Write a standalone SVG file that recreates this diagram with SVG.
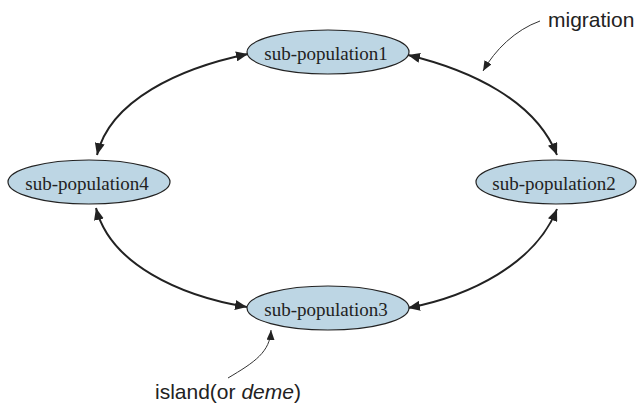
<svg xmlns="http://www.w3.org/2000/svg" width="639" height="406" viewBox="0 0 639 406">
<style>
.node ellipse{fill:#bdd6e4;stroke:#222;stroke-width:1.2}
.node text{font-family:"Liberation Serif","Times New Roman",serif;font-size:19px;fill:#222;text-anchor:middle}
.conn{fill:none;stroke:#222;stroke-width:2}
.thin{fill:none;stroke:#333;stroke-width:1}
.lbl{font-family:"Liberation Sans",Arial,sans-serif;font-size:21px;fill:#222}
</style>
<defs>
<marker id="ah" viewBox="0 0 12 10" refX="12" refY="5" markerWidth="12" markerHeight="10" markerUnits="userSpaceOnUse" orient="auto-start-reverse">
<path d="M0,0 L12,5 L0,10 Z" fill="#222"/>
</marker>
<marker id="as" viewBox="0 0 10 8" refX="10" refY="4" markerWidth="10" markerHeight="8" markerUnits="userSpaceOnUse" orient="auto">
<path d="M0,0 L10,4 L0,8 Z" fill="#222"/>
</marker>
</defs>
<g id="connectors">
<path class="conn" d="M248,54 C180,68 110,100 97,155" marker-start="url(#ah)" marker-end="url(#ah)"/>
<path class="conn" d="M408,55 C470,70 535,100 557,155" marker-start="url(#ah)" marker-end="url(#ah)"/>
<path class="conn" d="M96,208 C110,264 180,296 247,307" marker-start="url(#ah)" marker-end="url(#ah)"/>
<path class="conn" d="M557,209 C535,264 470,296 408,308" marker-start="url(#ah)" marker-end="url(#ah)"/>
<path class="thin" d="M540,21 C515,30 495,50 483,71" marker-end="url(#as)"/>
<path class="thin" d="M228,378 C255,362 270,352 271,330" marker-end="url(#as)"/>
</g>
<g id="n1" class="node"><ellipse cx="328" cy="52" rx="81" ry="22"/><text x="326" y="59.5">sub-population1</text></g>
<g id="n2" class="node"><ellipse cx="556" cy="182" rx="80" ry="22"/><text x="554" y="189.5">sub-population2</text></g>
<g id="n3" class="node"><ellipse cx="328" cy="308" rx="81" ry="22"/><text x="326" y="315.5">sub-population3</text></g>
<g id="n4" class="node"><ellipse cx="89" cy="182" rx="81" ry="22"/><text x="87" y="189.5">sub-population4</text></g>
<g id="labels">
<text class="lbl" x="155" y="399">island(or  <tspan font-style="italic">deme</tspan>)</text>
<text class="lbl" x="548" y="27">migration</text>
</g>
</svg>
